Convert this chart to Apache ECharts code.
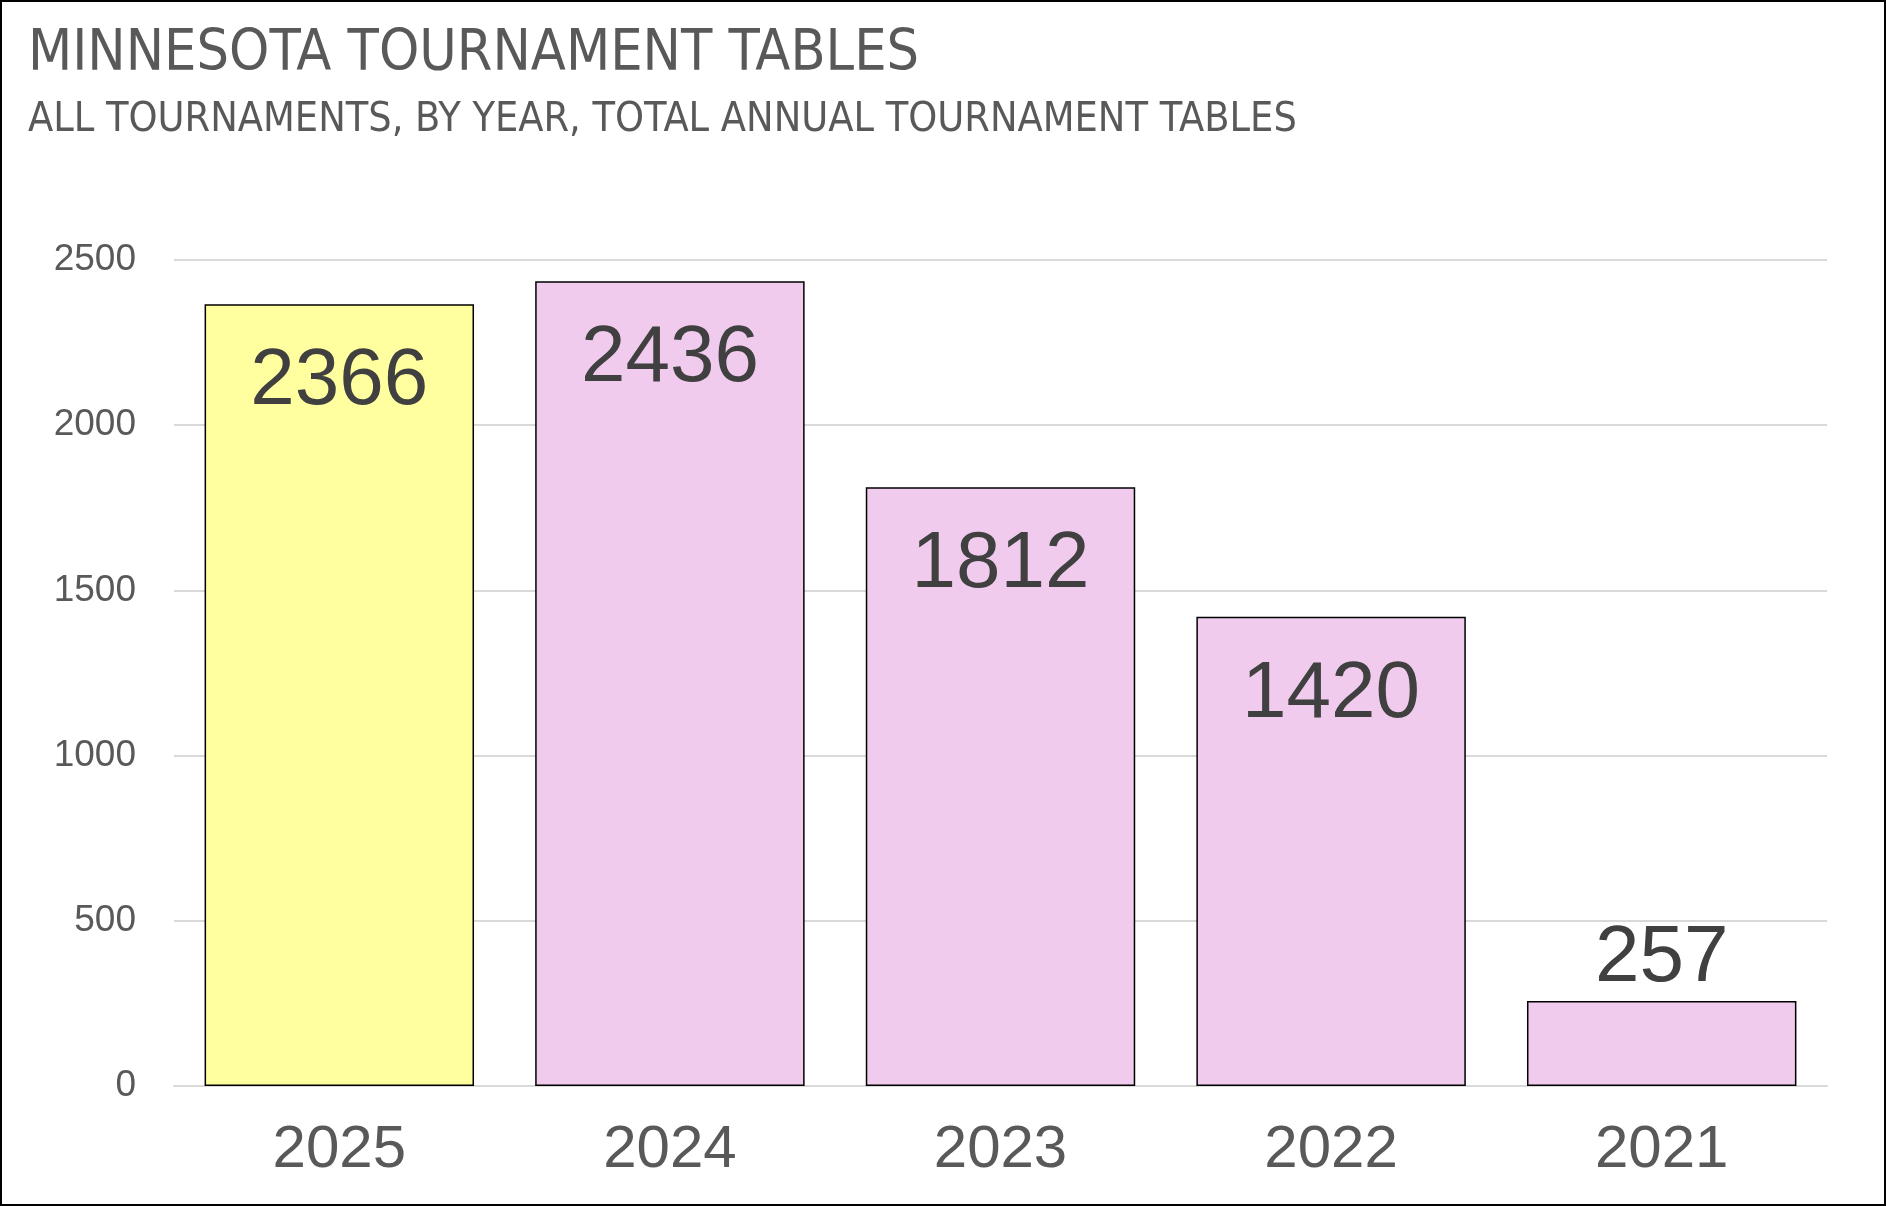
<!DOCTYPE html>
<html><head><meta charset="utf-8">
<script src="https://cdn.jsdelivr.net/npm/echarts@6/dist/echarts.min.js"></script>
<style>html,body{margin:0;padding:0;background:#fff}#c{width:1886px;height:1206px;outline:2px solid #000;outline-offset:-2px}</style>
</head><body><div id="c"></div>
<script>
const categories = ['2025','2024','2023','2022','2021'];
const values = [2366, 2436, 1812, 1420, 257];
const yTicks = [0, 500, 1000, 1500, 2000, 2500];
const titleText = 'MINNESOTA TOURNAMENT TABLES';
const subtitleText = 'ALL TOURNAMENTS, BY YEAR, TOTAL ANNUAL TOURNAMENT TABLES';

const chart = echarts.init(document.getElementById('c'));
const condensed = '"Liberation Sans Narrow","DejaVu Sans Condensed","Roboto",sans-serif';
const data = values.map((v, i) => ({
  value: v,
  itemStyle: { color: i === 0 ? '#ffffa0' : '#f0cbed' },
  label: v < 500 ? { position: 'top', distance: 2 } : { position: 'insideTop', distance: 38 }
}));
chart.setOption({
  animation: false,
  title: [
    { text: titleText, left: 23, top: 22, textStyle: { fontFamily: condensed, fontSize: 57, fontWeight: 'normal', color: '#595959' } },
    { text: subtitleText, left: 23, top: 95, textStyle: { fontFamily: condensed, fontSize: 41, fontWeight: 'normal', color: '#595959' } }
  ],
  grid: { left: 174, right: 59, top: 260, bottom: 120, containLabel: false },
  xAxis: {
    type: 'category', data: categories,
    axisTick: { show: false },
    axisLine: { lineStyle: { color: '#d9d9d9', width: 2 } },
    axisLabel: { fontFamily: 'Liberation Sans, Arial, sans-serif', fontSize: 60, color: '#595959', margin: 34 }
  },
  yAxis: {
    type: 'value', min: yTicks[0], max: yTicks[yTicks.length - 1], interval: 500,
    axisLine: { show: false }, axisTick: { show: false },
    splitLine: { lineStyle: { color: '#d9d9d9', width: 2 } },
    axisLabel: { fontFamily: 'Liberation Sans, Arial, sans-serif', fontSize: 37, color: '#595959', margin: 38, formatter: v => String(v) }
  },
  series: [{
    type: 'bar', data: data, barCategoryGap: '18.5%',
    itemStyle: { borderColor: '#000', borderWidth: 1.5 },
    label: { show: true, fontFamily: 'Liberation Sans, Arial, sans-serif', fontSize: 80, color: '#404040' }
  }]
});
</script></body></html>
